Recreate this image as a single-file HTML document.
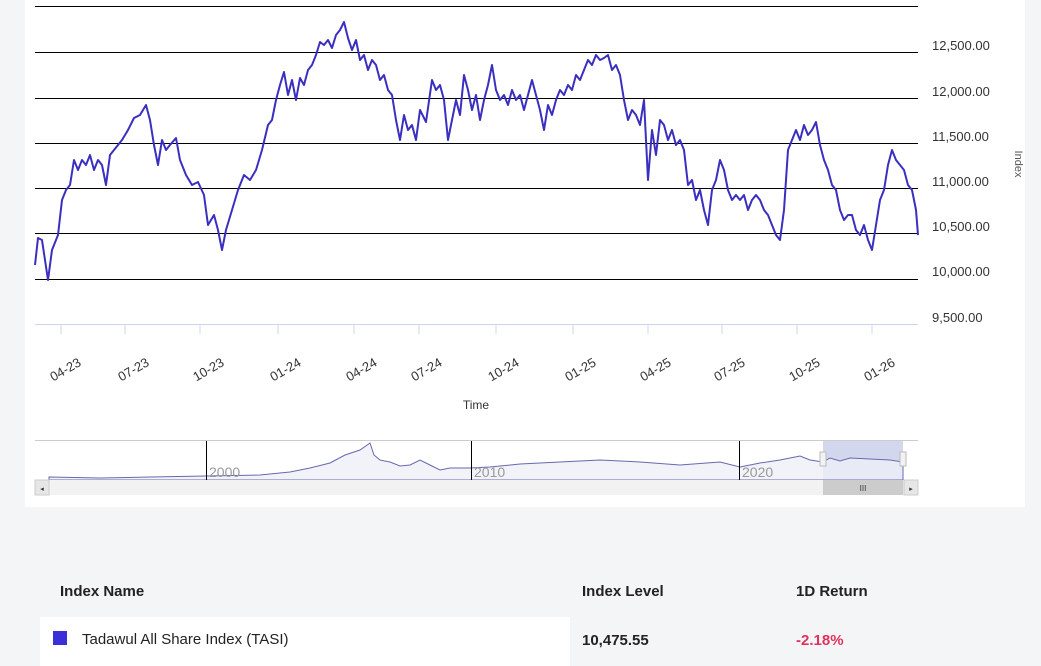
<!DOCTYPE html>
<html><head><meta charset="utf-8"><style>
html,body{margin:0;padding:0;background:#f4f5f7;width:1041px;height:666px;overflow:hidden;font-family:"Liberation Sans",sans-serif}
.panel{position:absolute;left:25px;top:0;width:1000px;height:507px;background:#fff}
</style></head><body>
<div class="panel"></div>
<svg width="1041" height="666" style="position:absolute;left:0;top:0" font-family="Liberation Sans, sans-serif">
<g stroke="#000" stroke-width="1">
<line x1="35" x2="918" y1="6.5" y2="6.5"/><line x1="35" x2="918" y1="52.5" y2="52.5"/>
<line x1="35" x2="918" y1="98.5" y2="98.5"/><line x1="35" x2="918" y1="143.5" y2="143.5"/>
<line x1="35" x2="918" y1="188.5" y2="188.5"/><line x1="35" x2="918" y1="233.5" y2="233.5"/>
<line x1="35" x2="918" y1="279.5" y2="279.5"/>
</g>
<line x1="35" x2="918" y1="324.5" y2="324.5" stroke="#ccd6eb"/>
<g stroke="#ccd6eb"><line x1="61" x2="61" y1="324" y2="334"/><line x1="125" x2="125" y1="324" y2="334"/><line x1="200" x2="200" y1="324" y2="334"/><line x1="278" x2="278" y1="324" y2="334"/><line x1="354" x2="354" y1="324" y2="334"/><line x1="419" x2="419" y1="324" y2="334"/><line x1="496" x2="496" y1="324" y2="334"/><line x1="573" x2="573" y1="324" y2="334"/><line x1="648" x2="648" y1="324" y2="334"/><line x1="722" x2="722" y1="324" y2="334"/><line x1="797" x2="797" y1="324" y2="334"/><line x1="872" x2="872" y1="324" y2="334"/></g>
<g font-size="13" fill="#333" text-anchor="end">
<text transform="translate(82,365) rotate(-30)">04-23</text>
<text transform="translate(150,365) rotate(-30)">07-23</text>
<text transform="translate(225,365) rotate(-30)">10-23</text>
<text transform="translate(302,365) rotate(-30)">01-24</text>
<text transform="translate(378,365) rotate(-30)">04-24</text>
<text transform="translate(443,365) rotate(-30)">07-24</text>
<text transform="translate(520,365) rotate(-30)">10-24</text>
<text transform="translate(597,365) rotate(-30)">01-25</text>
<text transform="translate(672,365) rotate(-30)">04-25</text>
<text transform="translate(746,365) rotate(-30)">07-25</text>
<text transform="translate(821,365) rotate(-30)">10-25</text>
<text transform="translate(896,365) rotate(-30)">01-26</text>
</g>
<text x="476" y="409" font-size="12" fill="#333" text-anchor="middle">Time</text>
<g font-size="13" fill="#333">
<text x="932" y="50">12,500.00</text><text x="932" y="96">12,000.00</text><text x="932" y="141">11,500.00</text><text x="932" y="186">11,000.00</text><text x="932" y="231">10,500.00</text><text x="932" y="276">10,000.00</text><text x="932" y="322">9,500.00</text>
</g>
<text transform="translate(1015,164) rotate(90)" font-size="11" fill="#555" text-anchor="middle">Index</text>
<polyline fill="none" stroke="#3a2fbf" stroke-width="2" stroke-linejoin="round" points="35,265 38,238 42,240 48,280 52,250 58,235 62,200 66,190 70,185 74,160 78,170 82,160 86,165 90,155 94,170 98,160 102,165 106,185 110,155 114,150 118,145 122,140 128,130 134,118 140,115 146,105 150,120 154,145 158,165 162,140 166,150 170,145 176,138 180,160 186,175 192,185 198,182 204,195 208,225 214,215 218,230 222,250 226,230 232,210 238,190 244,175 250,180 256,170 262,150 268,125 272,120 276,100 280,85 284,72 288,95 292,80 296,100 300,78 304,85 308,70 312,65 316,55 320,42 324,45 328,40 332,48 336,35 340,30 344,22 348,38 352,50 356,40 360,60 364,55 368,70 372,60 376,65 380,80 384,75 388,90 392,95 396,120 400,140 404,115 408,130 412,125 416,140 420,110 426,122 432,80 436,90 440,85 444,100 448,140 452,120 456,100 460,115 464,75 468,90 472,110 476,95 480,120 484,100 488,85 492,65 496,90 500,100 504,95 508,105 512,90 516,100 520,95 524,110 528,95 532,80 536,95 540,110 544,130 548,105 552,115 556,100 560,90 564,95 568,85 572,90 576,75 580,80 584,70 588,60 592,65 596,55 600,60 604,58 608,55 612,70 616,65 620,75 624,100 628,120 632,110 636,115 640,125 644,100 648,180 652,130 656,155 660,120 664,125 668,140 672,130 676,145 680,140 684,150 688,185 692,180 696,200 700,190 704,210 708,225 712,190 716,180 720,160 724,170 728,190 732,200 736,195 740,200 744,195 748,210 752,200 756,195 760,200 764,210 768,215 772,225 776,235 780,240 784,210 788,150 792,140 796,130 800,140 804,125 808,135 812,130 816,122 820,145 824,160 828,170 832,185 836,190 840,210 844,220 848,215 852,215 856,230 860,235 864,225 868,240 872,250 876,225 880,200 884,190 888,165 892,150 896,160 900,165 904,170 908,185 912,190 916,210 918,235"/>
<!-- navigator -->
<line x1="35" x2="918" y1="440.5" y2="440.5" stroke="#ccc"/>
<rect x="823" y="441" width="80" height="39" fill="#d3d7ee"/>
<polygon fill="#eef0f8" fill-opacity="0.8" stroke="#6668b0" stroke-width="1" points="49,477 100,478 150,477 206,476 260,475 290,472 310,468 330,463 345,455 360,450 370,443 374,455 380,460 390,462 400,466 410,465 420,460 430,465 440,470 450,468 470,468 490,467 520,464 560,462 600,460 640,462 680,465 720,462 740,467 760,463 780,460 800,456 810,460 823,462 830,458 840,461 850,458 870,459 890,460 903,462 903,480 49,480" />
<g stroke="#000"><line x1="206.5" x2="206.5" y1="441" y2="480"/><line x1="471.5" x2="471.5" y1="441" y2="480"/><line x1="739.5" x2="739.5" y1="441" y2="480"/></g>
<g font-size="14" fill="#999"><text x="209" y="477">2000</text><text x="474" y="477">2010</text><text x="742" y="477">2020</text></g>
<rect x="820" y="452" width="6" height="14" fill="#f2f2f2" stroke="#bbb"/>
<rect x="900" y="452" width="6" height="14" fill="#f2f2f2" stroke="#bbb"/>
<rect x="35" y="480" width="883" height="15" fill="#f2f2f2"/>
<rect x="823" y="480" width="80" height="15" fill="#ccc"/>
<rect x="35" y="480" width="14" height="15" fill="#e6e6e6" stroke="#ccc"/>
<rect x="904" y="480" width="14" height="15" fill="#e6e6e6" stroke="#ccc"/>
<text x="42" y="491" font-size="7" fill="#333" text-anchor="middle">◂</text>
<text x="911" y="491" font-size="7" fill="#333" text-anchor="middle">▸</text>
<text x="863" y="491" font-size="8" fill="#333" text-anchor="middle">III</text>
<!-- table -->
<rect x="40" y="617" width="530" height="49" fill="#fff"/>
<g font-size="15" font-weight="bold" fill="#222"><text x="60" y="596">Index Name</text><text x="582" y="596">Index Level</text><text x="796" y="596">1D Return</text></g>
<rect x="53" y="631" width="14" height="14" fill="#3a2fd8"/>
<text x="82" y="644" font-size="15" fill="#222">Tadawul All Share Index (TASI)</text>
<text x="582" y="645" font-size="15" font-weight="bold" fill="#222">10,475.55</text>
<text x="796" y="645" font-size="15" font-weight="bold" fill="#e0325c">-2.18%</text>
</svg>
</body></html>
